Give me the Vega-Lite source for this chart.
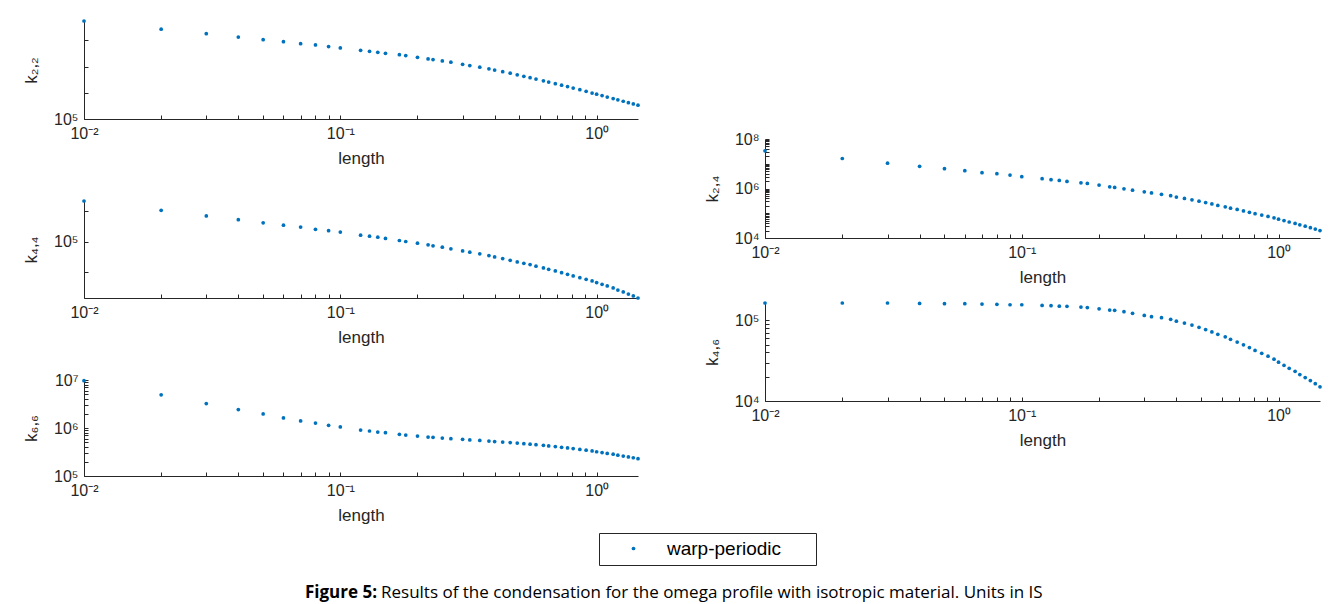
{
  "$schema": "https://vega.github.io/schema/vega-lite/v6.json",
  "padding": {"left": 22, "top": 19, "right": 5, "bottom": 0},
  "background": "white",
  "datasets": {
    "k": [
      {"length": 0.01, "k22": 1340000, "k44": 251000, "k66": 9700000, "k24": 33400000, "k46": 164000},
      {"length": 0.02, "k22": 1080000, "k44": 203000, "k66": 4900000, "k24": 16300000, "k46": 164000},
      {"length": 0.03, "k22": 957000, "k44": 179000, "k66": 3230000, "k24": 10500000, "k46": 164000},
      {"length": 0.04, "k22": 877000, "k44": 164000, "k66": 2420000, "k24": 7900000, "k46": 162000},
      {"length": 0.05, "k22": 817000, "k44": 153000, "k66": 1960000, "k24": 6350000, "k46": 161000},
      {"length": 0.06, "k22": 775000, "k44": 145000, "k66": 1620000, "k24": 5260000, "k46": 161000},
      {"length": 0.07, "k22": 735000, "k44": 139000, "k66": 1400000, "k24": 4360000, "k46": 159000},
      {"length": 0.08, "k22": 710000, "k44": 132000, "k66": 1270000, "k24": 3970000, "k46": 158000},
      {"length": 0.09, "k22": 680000, "k44": 128000, "k66": 1140000, "k24": 3500000, "k46": 156000},
      {"length": 0.1, "k22": 656000, "k44": 124000, "k66": 1050000, "k24": 2990000, "k46": 156000},
      {"length": 0.12, "k22": 617000, "k44": 115500, "k66": 908000, "k24": 2480000, "k46": 153000},
      {"length": 0.13, "k22": 600000, "k44": 112900, "k66": 866000, "k24": 2260000, "k46": 152000},
      {"length": 0.14, "k22": 585000, "k44": 110400, "k66": 825000, "k24": 2120000, "k46": 150000},
      {"length": 0.15, "k22": 570000, "k44": 107100, "k66": 798000, "k24": 1930000, "k46": 149000},
      {"length": 0.17, "k22": 550000, "k44": 102300, "k66": 738000, "k24": 1700000, "k46": 146000},
      {"length": 0.18, "k22": 536000, "k44": 100000, "k66": 714000, "k24": 1600000, "k46": 144000},
      {"length": 0.2, "k22": 513000, "k44": 96300, "k66": 680000, "k24": 1370000, "k46": 139000},
      {"length": 0.22, "k22": 491000, "k44": 92700, "k66": 648000, "k24": 1170000, "k46": 134000},
      {"length": 0.23, "k22": 482000, "k44": 90600, "k66": 638000, "k24": 1100000, "k46": 133000},
      {"length": 0.25, "k22": 466000, "k44": 87900, "k66": 618000, "k24": 970000, "k46": 128000},
      {"length": 0.27, "k22": 450000, "k44": 84600, "k66": 598000, "k24": 855000, "k46": 122000},
      {"length": 0.3, "k22": 426000, "k44": 80800, "k66": 580000, "k24": 731000, "k46": 115000},
      {"length": 0.32, "k22": 412000, "k44": 78400, "k66": 565000, "k24": 665000, "k46": 111000},
      {"length": 0.35, "k22": 395000, "k44": 75500, "k66": 550000, "k24": 585000, "k46": 108000},
      {"length": 0.38, "k22": 378000, "k44": 72700, "k66": 535000, "k24": 514000, "k46": 102800},
      {"length": 0.4, "k22": 366000, "k44": 70500, "k66": 522000, "k24": 452000, "k46": 97700},
      {"length": 0.43, "k22": 350000, "k44": 67900, "k66": 510000, "k24": 397000, "k46": 92500},
      {"length": 0.46, "k22": 336000, "k44": 65300, "k66": 497000, "k24": 349000, "k46": 87300},
      {"length": 0.49, "k22": 322000, "k44": 62900, "k66": 485000, "k24": 307000, "k46": 82000},
      {"length": 0.52, "k22": 310000, "k44": 61000, "k66": 472000, "k24": 270000, "k46": 76900},
      {"length": 0.55, "k22": 299000, "k44": 59200, "k66": 460000, "k24": 237000, "k46": 71900},
      {"length": 0.58, "k22": 288000, "k44": 57000, "k66": 448000, "k24": 208000, "k46": 67100},
      {"length": 0.62, "k22": 275000, "k44": 54900, "k66": 435000, "k24": 183000, "k46": 62500},
      {"length": 0.65, "k22": 266000, "k44": 53200, "k66": 422000, "k24": 161000, "k46": 58100},
      {"length": 0.69, "k22": 255000, "k44": 51200, "k66": 410000, "k24": 142000, "k46": 53800},
      {"length": 0.73, "k22": 245000, "k44": 49300, "k66": 397000, "k24": 124000, "k46": 49800},
      {"length": 0.77, "k22": 236000, "k44": 47500, "k66": 384000, "k24": 109000, "k46": 45900},
      {"length": 0.81, "k22": 227000, "k44": 45700, "k66": 372000, "k24": 96000, "k46": 42400},
      {"length": 0.86, "k22": 217000, "k44": 44000, "k66": 358000, "k24": 84500, "k46": 39000},
      {"length": 0.91, "k22": 208000, "k44": 42400, "k66": 345000, "k24": 74300, "k46": 35900},
      {"length": 0.96, "k22": 199000, "k44": 40800, "k66": 332000, "k24": 65300, "k46": 33000},
      {"length": 1.0, "k22": 193000, "k44": 39300, "k66": 320000, "k24": 57500, "k46": 30300},
      {"length": 1.05, "k22": 186000, "k44": 37800, "k66": 308000, "k24": 50500, "k46": 27700},
      {"length": 1.1, "k22": 179000, "k44": 36400, "k66": 296000, "k24": 44300, "k46": 25400},
      {"length": 1.16, "k22": 172000, "k44": 34800, "k66": 284000, "k24": 38800, "k46": 23300},
      {"length": 1.21, "k22": 166000, "k44": 33200, "k66": 272000, "k24": 34000, "k46": 21300},
      {"length": 1.27, "k22": 160000, "k44": 31800, "k66": 260000, "k24": 29900, "k46": 19500},
      {"length": 1.33, "k22": 154000, "k44": 30300, "k66": 250000, "k24": 26200, "k46": 17900},
      {"length": 1.39, "k22": 149000, "k44": 29000, "k66": 240000, "k24": 23000, "k46": 16400},
      {"length": 1.45, "k22": 144000, "k44": 27700, "k66": 230000, "k24": 20000, "k46": 15000}
    ]
  },
  "config": {
    "view": {"stroke": null},
    "axis": {
      "grid": false,
      "domainColor": "#262626",
      "tickColor": "#262626",
      "labelColor": "#262626",
      "titleColor": "#262626",
      "labelFont": "Liberation Sans",
      "titleFont": "Liberation Sans",
      "labelFontSize": 16,
      "titleFontSize": 17,
      "titleFontWeight": "normal",
      "tickSize": -4,
      "labelPadding": 10,
      "labelOverlap": false,
      "labelFlush": false
    },
    "axisX": {"titlePadding": 9},
    "axisY": {"titlePadding": 13}
  },
  "bounds": "flush",
  "spacing": 681,
  "hconcat": [
    {
      "bounds": "flush",
      "spacing": 82,
      "vconcat": [
        {
          "width": 554, "height": 98,
          "data": {"name": "k"},
          "mark": {"type": "point", "filled": true, "size": 14, "color": "#0072BD", "opacity": 1},
          "encoding": {
            "x": {"field": "length", "type": "quantitative", "scale": {"type": "log", "domain": [0.01, 1.45], "nice": false},
              "axis": {"title": "length", "values": [0.01,0.02,0.03,0.04,0.05,0.06,0.07,0.08,0.09,0.1,0.2,0.3,0.4,0.5,0.6,0.7,0.8,0.9,1],
                "labelExpr": "datum.value == 0.01 ? '10⁻²' : datum.value == 0.1 ? '10⁻¹' : datum.value == 1 ? '10⁰' : ''"}},
            "y": {"field": "k22", "type": "quantitative", "scale": {"type": "log", "domain": [100000, 1340000], "nice": false},
              "axis": {"title": "k₂,₂", "values": [100000, 200000, 400000, 800000], "labelExpr": "datum.value == 100000 ? '10⁵' : ''"}}
          }
        },
        {
          "width": 554, "height": 97,
          "data": {"name": "k"},
          "mark": {"type": "point", "filled": true, "size": 14, "color": "#0072BD", "opacity": 1},
          "encoding": {
            "x": {"field": "length", "type": "quantitative", "scale": {"type": "log", "domain": [0.01, 1.45], "nice": false},
              "axis": {"title": "length", "values": [0.01,0.02,0.03,0.04,0.05,0.06,0.07,0.08,0.09,0.1,0.2,0.3,0.4,0.5,0.6,0.7,0.8,0.9,1],
                "labelExpr": "datum.value == 0.01 ? '10⁻²' : datum.value == 0.1 ? '10⁻¹' : datum.value == 1 ? '10⁰' : ''"}},
            "y": {"field": "k44", "type": "quantitative", "scale": {"type": "log", "domain": [27700, 251000], "nice": false},
              "axis": {"title": "k₄,₄", "values": [50000, 100000, 200000], "labelExpr": "datum.value == 100000 ? '10⁵' : ''"}}
          }
        },
        {
          "width": 554, "height": 96,
          "data": {"name": "k"},
          "mark": {"type": "point", "filled": true, "size": 14, "opacity": 1},
          "encoding": {
            "x": {"field": "length", "type": "quantitative", "scale": {"type": "log", "domain": [0.01, 1.45], "nice": false},
              "axis": {"title": "length", "values": [0.01,0.02,0.03,0.04,0.05,0.06,0.07,0.08,0.09,0.1,0.2,0.3,0.4,0.5,0.6,0.7,0.8,0.9,1],
                "labelExpr": "datum.value == 0.01 ? '10⁻²' : datum.value == 0.1 ? '10⁻¹' : datum.value == 1 ? '10⁰' : ''"}},
            "y": {"field": "k66", "type": "quantitative", "scale": {"type": "log", "domain": [100000, 10000000], "nice": false},
              "axis": {"title": "k₆,₆", "values": [100000,200000,300000,400000,500000,600000,700000,800000,900000,1000000,2000000,3000000,4000000,5000000,6000000,7000000,8000000,9000000,10000000],
                "labelExpr": "datum.value == 100000 ? '10⁵' : datum.value == 1000000 ? '10⁶' : datum.value == 10000000 ? '10⁷' : ''"}},
            "color": {"datum": "warp-periodic", "type": "nominal", "scale": {"range": ["#0072BD"]},
              "legend": {"title": null, "orient": "none", "legendX": 515, "legendY": 512,
                "strokeColor": "#262626", "fillColor": "white", "padding": 6,
                "symbolType": "circle", "symbolSize": 14, "symbolOffset": 19, "labelOffset": 24,
                "labelFont": "Liberation Sans", "labelFontSize": 19, "labelColor": "#000", "labelLimit": 400,
                "labelExpr": "datum.label + '\u2800\u2800'"}}
          }
        },
        {
          "width": 586, "height": 70,
          "data": {"values": [{}]},
          "layer": [
            {"mark": {"type": "text", "text": "Figure 5:", "align": "right", "baseline": "middle", "font": "Open Sans", "fontSize": 17, "fontWeight": "bold", "color": "#000"}},
            {"mark": {"type": "text", "text": "Results of the condensation for the omega profile with isotropic material. Units in IS", "align": "left", "dx": 4, "baseline": "middle", "font": "Open Sans", "fontSize": 17, "color": "#000"}}
          ]
        }
      ]
    },
    {
      "bounds": "flush",
      "spacing": 65,
      "vconcat": [
        {
          "width": 555, "height": 53,
          "data": {"values": [{}]},
          "mark": {"type": "text", "text": ""}
        },
        {
          "width": 555, "height": 99,
          "data": {"name": "k"},
          "mark": {"type": "point", "filled": true, "size": 14, "color": "#0072BD", "opacity": 1},
          "encoding": {
            "x": {"field": "length", "type": "quantitative", "scale": {"type": "log", "domain": [0.01, 1.45], "nice": false},
              "axis": {"title": "length", "values": [0.01,0.02,0.03,0.04,0.05,0.06,0.07,0.08,0.09,0.1,0.2,0.3,0.4,0.5,0.6,0.7,0.8,0.9,1],
                "labelExpr": "datum.value == 0.01 ? '10⁻²' : datum.value == 0.1 ? '10⁻¹' : datum.value == 1 ? '10⁰' : ''"}},
            "y": {"field": "k24", "type": "quantitative", "scale": {"type": "log", "domain": [10000, 100000000], "nice": false},
              "axis": {"title": "k₂,₄", "values": [10000,20000,30000,40000,50000,60000,70000,80000,90000,100000,200000,300000,400000,500000,600000,700000,800000,900000,1000000,2000000,3000000,4000000,5000000,6000000,7000000,8000000,9000000,10000000,20000000,30000000,40000000,50000000,60000000,70000000,80000000,90000000,100000000],
                "labelExpr": "datum.value == 10000 ? '10⁴' : datum.value == 1000000 ? '10⁶' : datum.value == 100000000 ? '10⁸' : ''"}}
          }
        },
        {
          "width": 555, "height": 98,
          "data": {"name": "k"},
          "mark": {"type": "point", "filled": true, "size": 14, "color": "#0072BD", "opacity": 1},
          "encoding": {
            "x": {"field": "length", "type": "quantitative", "scale": {"type": "log", "domain": [0.01, 1.45], "nice": false},
              "axis": {"title": "length", "values": [0.01,0.02,0.03,0.04,0.05,0.06,0.07,0.08,0.09,0.1,0.2,0.3,0.4,0.5,0.6,0.7,0.8,0.9,1],
                "labelExpr": "datum.value == 0.01 ? '10⁻²' : datum.value == 0.1 ? '10⁻¹' : datum.value == 1 ? '10⁰' : ''"}},
            "y": {"field": "k46", "type": "quantitative", "scale": {"type": "log", "domain": [10000, 164000], "nice": false},
              "axis": {"title": "k₄,₆", "values": [10000,20000,30000,40000,50000,60000,70000,80000,90000,100000],
                "labelExpr": "datum.value == 10000 ? '10⁴' : datum.value == 100000 ? '10⁵' : ''"}}
          }
        }
      ]
    }
  ]
}
